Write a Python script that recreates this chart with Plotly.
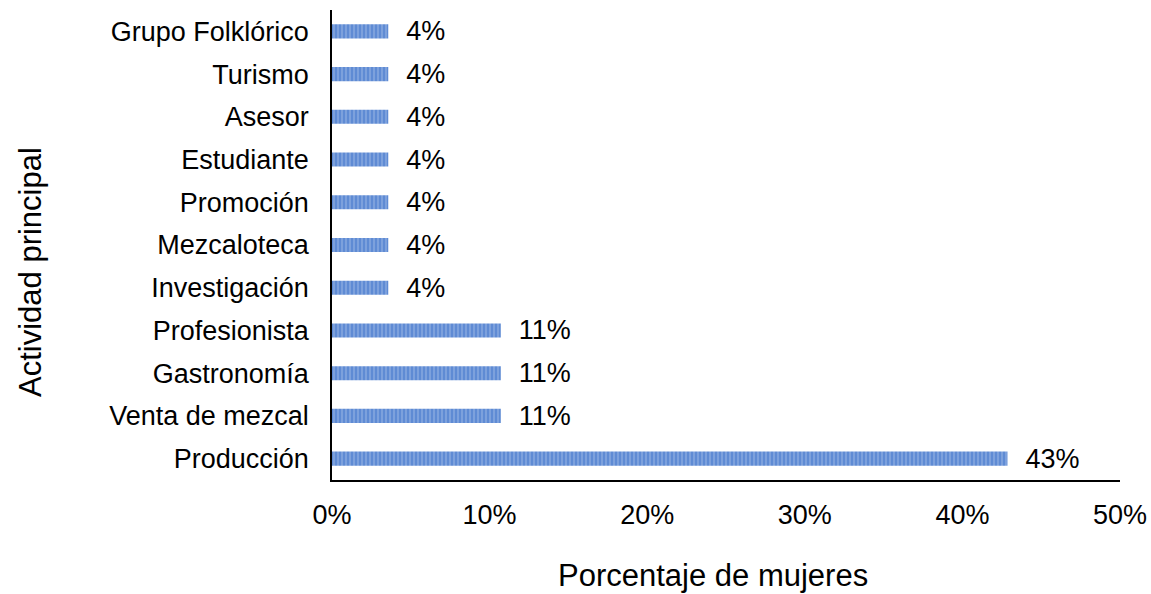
import plotly.graph_objects as go

categorias = ["Producción", "Venta de mezcal", "Gastronomía", "Profesionista",
              "Investigación", "Mezcaloteca", "Promoción", "Estudiante",
              "Asesor", "Turismo", "Grupo Folklórico"]
porcentajes = [42.86, 10.71, 10.71, 10.71, 3.57, 3.57, 3.57, 3.57, 3.57, 3.57, 3.57]
etiquetas = ["43%", "11%", "11%", "11%", "4%", "4%", "4%", "4%", "4%", "4%", "4%"]
ticks_x = [0, 10, 20, 30, 40, 50]
ticks_x_txt = ["0%", "10%", "20%", "30%", "40%", "50%"]
titulo_x = "Porcentaje de mujeres"
titulo_y = "Actividad principal"

FONT = "Liberation Sans, Arial, sans-serif"

W, H = 1151, 594
ML, MR, MT, MB = 332, 31, 10, 114

fig = go.Figure(go.Bar(
    y=categorias, x=porcentajes, orientation="h",
    text=["  " + e for e in etiquetas], textposition="outside",
    constraintext="none",
    textfont=dict(size=27, color="#000000", family=FONT),
    cliponaxis=False,
    width=0.33,
    marker=dict(
        color="#6a96da",
        line=dict(width=0),
        pattern=dict(shape="|", fgcolor="#a9c3ea", bgcolor="#5f8bd4",
                     size=4, solidity=0.4),
    ),
))

fig.update_layout(
    width=W, height=H,
    margin=dict(l=ML, r=MR, t=MT, b=MB),
    paper_bgcolor="white", plot_bgcolor="white",
    font=dict(family=FONT, size=27, color="#000000"),
    showlegend=False,
    uniformtext=dict(mode=False),
    xaxis=dict(
        range=[0, 50], tickvals=ticks_x, ticktext=ticks_x_txt,
        showgrid=False, zeroline=False, automargin=False,
        showline=True, linecolor="#000000", linewidth=2,
        ticks="", ticklabelstandoff=10,
        tickfont=dict(size=27),
    ),
    yaxis=dict(
        categoryorder="array", categoryarray=categorias,
        range=[-0.5, 10.5], automargin=False,
        showgrid=False, zeroline=False,
        showline=True, linecolor="#000000", linewidth=1.5,
        ticks="", ticklabelstandoff=16,
        tickfont=dict(size=27),
    ),
    annotations=[
        dict(text=titulo_x, xref="paper", yref="paper",
             x=(713 - ML) / (W - ML - MR), y=-(575 - (H - MB)) / (H - MT - MB),
             xanchor="center", yanchor="middle", showarrow=False,
             font=dict(size=31, family=FONT, color="#000000")),
        dict(text=titulo_y, xref="paper", yref="paper", textangle=-90,
             x=-(ML - 30) / (W - ML - MR), y=1 - (272 - MT) / (H - MT - MB),
             xanchor="center", yanchor="middle", showarrow=False,
             font=dict(size=31, family=FONT, color="#000000")),
    ],
)

fig.write_html(
    "out.html",
    config={"displayModeBar": False},
    post_script="document.body.style.margin='0';document.body.style.overflow='hidden';",
)
